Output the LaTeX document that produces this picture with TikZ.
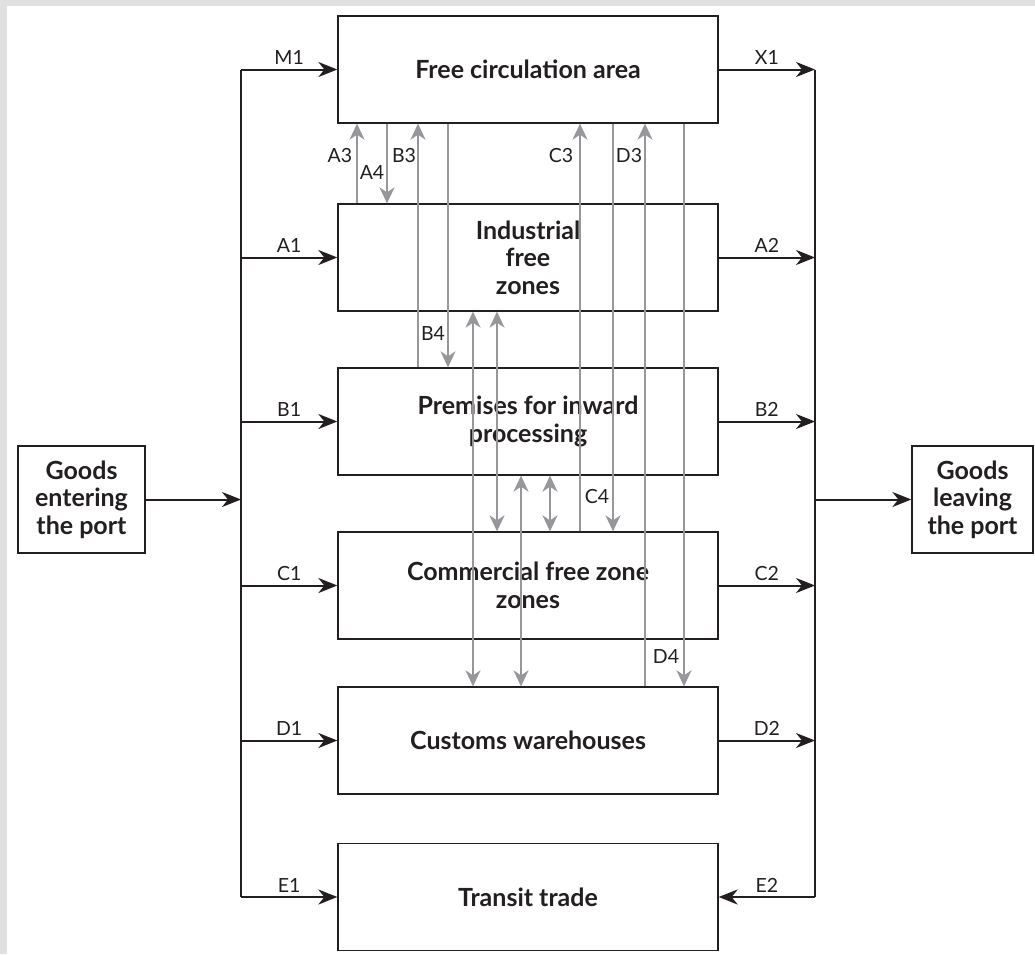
\documentclass[tikz,border=0pt]{standalone}
\usepackage{fontspec}
\setmainfont{Lato}
\usetikzlibrary{arrows.meta}
\usetikzlibrary{calc}

\definecolor{framegray}{RGB}{224,224,224}
\definecolor{flowgray}{RGB}{150,150,155}
\definecolor{ink}{RGB}{35,31,32}

\newcommand{\boxwidth}{380pt}
\newcommand{\boxheight}{107pt}

\tikzstyle{area}=[
  draw=ink,
  line width=1.3pt,
  minimum width=\boxwidth,
  minimum height=\boxheight,
  align=center,
  text=ink,
  font=\fontsize{25}{27.5}\selectfont\bfseries
]
\tikzstyle{port}=[
  area,
  minimum width=127pt
]
\tikzstyle{bus}=[
  draw=ink,
  line width=2pt
]
\tikzstyle{op}=[
  -{Stealth[length=19pt, width=15pt, inset=6pt]},
  draw=ink,
  line width=2pt
]
\tikzstyle{flow}=[
  -{Stealth[length=16pt, width=15pt, inset=5pt]},
  color=flowgray,
  line width=1.7pt
]
\tikzstyle{twoway}=[
  {Stealth[length=16pt, width=15pt, inset=5pt]}-{Stealth[length=16pt, width=15pt, inset=5pt]},
  color=flowgray,
  line width=1.7pt
]
\tikzstyle{tag}=[
  text=ink,
  inner sep=4pt,
  font=\fontsize{19.5}{21}\selectfont
]

\begin{document}
\begin{tikzpicture}[x=1pt, y=-1pt]
  \useasboundingbox (0,0) rectangle (1035,954);
  \fill[framegray] (0,0) rectangle (1035,954);
  \fill[white] (7,6) rectangle (1035,954);

  % zones
  \node[area] (fca) at (528,  69.5) {Free circulation area};
  \node[area] (ifz) at (528, 257.5) {Industrial\\free\\zones};
  \node[area] (pip) at (528, 421.5) {Premises for inward\\processing};
  \node[area] (cfz) at (528, 585.5) {Commercial free zone\\zones};
  \node[area] (cw)  at (528, 740.5) {Customs warehouses};
  \node[area] (tt)  at (528, 897  ) {Transit trade};

  \node[port                   ] (gin)  at ( 81.5, 499.5) {Goods\\entering\\the port};
  \node[port, minimum width=121pt] (gout) at (972.5, 499.5) {Goods\\leaving\\the port};

  % bus lines and lanes
  \coordinate (busl) at (241, 0);
  \coordinate (busr) at (815, 0);
  \coordinate (a3) at (357, 0);
  \coordinate (a4) at (387, 0);
  \coordinate (b3) at (418, 0);
  \coordinate (b4) at (448, 0);
  \coordinate (l1) at (473, 0);
  \coordinate (l2) at (497, 0);
  \coordinate (l3) at (521, 0);
  \coordinate (l4) at (550, 0);
  \coordinate (c3) at (580, 0);
  \coordinate (c4) at (613, 0);
  \coordinate (d3) at (645, 0);
  \coordinate (d4) at (684, 0);

  \draw[bus] (fca.west -| busl) -- (tt.west -| busl);
  \draw[bus] (fca.east -| busr) -- (tt.east -| busr);

  \draw[op] (gin.east) -- (gin.east -| busl);
  \draw[op] (gout.west -| busr) -- (gout.west);

  \draw[op] (fca.west -| busl) -- (fca.west) node[tag, midway, above] (m1) {M1};
  \draw[op] (ifz.west -| busl) -- (ifz.west) node[tag, midway, above] (a1) {A1};
  \draw[op] (pip.west -| busl) -- (pip.west) node[tag, midway, above] (b1) {B1};
  \draw[op] (cfz.west -| busl) -- (cfz.west) node[tag, midway, above] (c1) {C1};
  \draw[op] (cw.west  -| busl) -- (cw.west)  node[tag, midway, above] (d1) {D1};
  \draw[op] (tt.west  -| busl) -- (tt.west)  node[tag, midway, above] (e1) {E1};

  \draw[op] (fca.east) -- (fca.east -| busr) node[tag, midway, above] (x1) {X1};
  \draw[op] (ifz.east) -- (ifz.east -| busr) node[tag, midway, above] (a2) {A2};
  \draw[op] (pip.east) -- (pip.east -| busr) node[tag, midway, above] (b2) {B2};
  \draw[op] (cfz.east) -- (cfz.east -| busr) node[tag, midway, above] (c2) {C2};
  \draw[op] (cw.east)  -- (cw.east  -| busr) node[tag, midway, above] (d2) {D2};
  \draw[op] (tt.east -| busr) -- (tt.east)   node[tag, midway, above] (e2) {E2};

  % transfers between zones
  \draw[flow] (ifz.north -| a3) -- (fca.south -| a3);
  \draw[flow] (fca.south -| a4) -- (ifz.north -| a4);
  \draw[flow] (pip.north -| b3) -- (fca.south -| b3);
  \draw[flow] (fca.south -| b4) -- (pip.north -| b4);
  \draw[flow] (cfz.north -| c3) -- (fca.south -| c3);
  \draw[flow] (fca.south -| c4) -- (cfz.north -| c4);
  \draw[flow] (cw.north  -| d3) -- (fca.south -| d3);
  \draw[flow] (fca.south -| d4) -- (cw.north  -| d4);

  \draw[twoway] (ifz.south -| l1) -- (cw.north  -| l1);
  \draw[twoway] (ifz.south -| l2) -- (cfz.north -| l2);
  \draw[twoway] (pip.south -| l3) -- (cw.north  -| l3);
  \draw[twoway] (pip.south -| l4) -- (cfz.north -| l4);

  \node[tag] (la3) at (340, 156) {A3};
  \node[tag] (la4) at (372, 173) {A4};
  \node[tag] (lb3) at (404, 156) {B3};
  \node[tag] (lb4) at (433, 334) {B4};
  \node[tag] (lc3) at (561, 156) {C3};
  \node[tag] (lc4) at (597, 497) {C4};
  \node[tag] (ld3) at (629, 156) {D3};
  \node[tag] (ld4) at (666, 656) {D4};
\end{tikzpicture}
\end{document}
